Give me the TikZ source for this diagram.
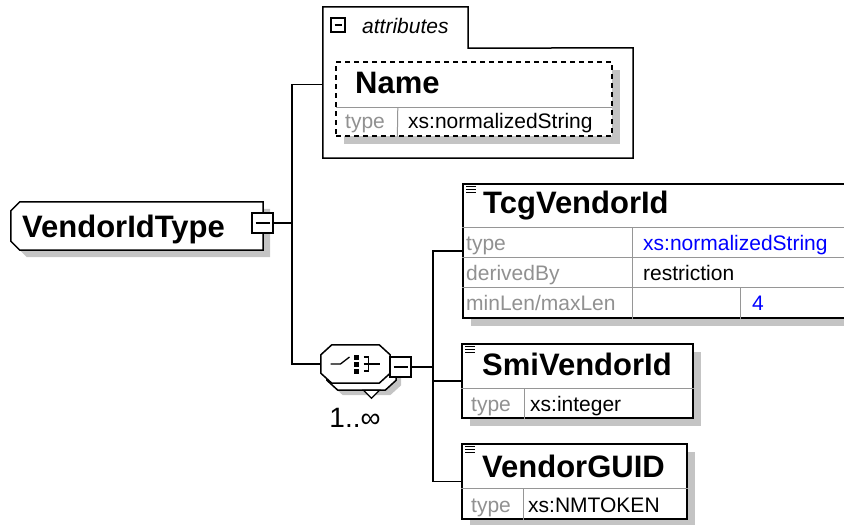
\documentclass[tikz,border=0pt]{standalone}
\usepackage{fontspec}
\setmainfont{Liberation Sans}
\usepackage{tikz}
\usetikzlibrary{calc, positioning, shadows}
\definecolor{xsdgrid}{RGB}{150,150,150}
\definecolor{xsdlabel}{RGB}{145,145,145}
\definecolor{xsdshadow}{RGB}{196,196,196}
\definecolor{xsdblue}{RGB}{0,0,255}
\newcommand{\docmark}[1]{%
  \foreach \dy in {3,6,9} \draw[line width=0.9pt] ($(#1.north west)+(4,\dy)$) -- ++(10,0);}
% octagon round a node, shifted by #2
\newcommand{\octoshape}[3]{%
  \path[#3] ($(#1.north west)+(11+#2,#2)$) -- ($(#1.north east)+(-11+#2,#2)$) -- ($(#1.north east)+(#2,10+#2)$)
    -- ($(#1.south east)+(#2,-10+#2)$) -- ($(#1.south east)+(-11+#2,#2)$) -- ($(#1.south west)+(11+#2,#2)$)
    -- ($(#1.south west)+(#2,-10+#2)$) -- ($(#1.north west)+(#2,10+#2)$) -- cycle;}
% complex type outline, chamfered on the left only
\newcommand{\typeshape}[3]{%
  \path[#3] ($(#1.north west)+(9+#2,#2)$) -- ($(#1.north east)+(#2,#2)$) -- ($(#1.south east)+(#2,#2)$)
    -- ($(#1.south west)+(9+#2,#2)$) -- ($(#1.south west)+(#2,-9+#2)$) -- ($(#1.north west)+(#2,9+#2)$) -- cycle;}

\begin{document}
\begin{tikzpicture}[x=1pt, y=-1pt,
    conn/.style={line width=1.5pt},
    gridline/.style={draw=xsdgrid, line width=1pt},
    outline/.style={draw=black, fill=white, line width=1.5pt},
    gray shadow/.style={drop shadow={shadow xshift=#1, shadow yshift=-#1, fill=xsdshadow, opacity=1}},
    elembox/.style={rectangle, draw=black, fill=white, line width=1.5pt, inner sep=0pt, gray shadow=8pt},
    frame/.style={rectangle, inner sep=0pt},
    ename/.style={font=\fontsize{31}{31}\selectfont\bfseries, anchor=base west, inner sep=0pt},
    prop/.style={font=\fontsize{21}{21}\selectfont, text=xsdlabel, anchor=base west, inner sep=0pt},
    pval/.style={font=\fontsize{21}{21}\selectfont, anchor=base west, inner sep=0pt},
    expander/.style={rectangle, draw=black, fill=white, line width=1.3pt, minimum width=21pt, minimum height=20pt, inner sep=0pt,
      path picture={\draw[line width=1.3pt] ([xshift=3.5pt]path picture bounding box.west) -- ([xshift=-3.5pt]path picture bounding box.east);}},
]
    \useasboundingbox (0,0) rectangle (844,525);
    \clip (0,0) rectangle (844,525);

    % complex type
    \node[frame, minimum width=252pt, minimum height=48pt] (vtype) at (137,226) {};
    \typeshape{vtype}{7}{fill=xsdshadow}
    \typeshape{vtype}{0}{outline}
    \node[ename] (vtypename) at (22,237) {VendorIdType};
    \node[expander] (vbtn) at (262.5,223) {};
    \coordinate (bus1) at (292,223);

    % attributes
    \node[frame, minimum width=145pt, minimum height=41pt] (attrtab) at (395.5,27.5) {};
    \node[frame, minimum width=310pt, minimum height=110pt] (attr) at (478,103) {};
    \draw[outline] (attrtab.south west) -- (attrtab.north west) -- (attrtab.north east)
      -- (attrtab.south east) -- (attr.north east) -- (attr.south east) -- (attr.south west) -- cycle;
    \node[expander, minimum width=14pt, minimum height=14pt] (attrbtn) at (338,25) {};
    \node[pval, font=\fontsize{21}{21}\selectfont\itshape] (attrlabel) at (362,33) {attributes};

    % Name
    \node[rectangle, draw=black, dash pattern=on 5pt off 4pt, fill=white, line width=1.3pt, minimum width=276pt,
      minimum height=74pt, inner sep=0pt, gray shadow=8pt] (namebox) at (474,99) {};
    \node[frame, minimum width=276pt, minimum height=45pt] (namehead) at (474,84.5) {};
    \draw[gridline] (namehead.south west) -- (namehead.south east);
    \draw[gridline] ($(namehead.south west)+(62,0)$) -- ($(namebox.south west)+(62,0)$);
    \node[ename] (nametitle) at (355,93) {Name};
    \node[prop] (nametype) at (345,128) {type};
    \node[pval] (nametypeval) at (408,128) {xs:normalizedString};

    % choice
    \node[frame, minimum width=69pt, minimum height=38pt] (choiceback) at (361.5,371) {};
    \octoshape{choiceback}{5}{fill=xsdshadow}
    \octoshape{choiceback}{0}{outline}
    \draw[outline, line width=1.3pt] ($(choiceback.south)+(2,0)$) -- ++(16,0) -- ++(-8,8) -- cycle;
    \node[frame, minimum width=69pt, minimum height=38pt] (choice) at (355.5,364) {};
    \octoshape{choice}{0}{outline}
    \draw[line width=1.3pt] ($(choice.center)+(-25,0)$) -- ++(10,0) -- ++(9,-7);
    \foreach \dy in {-7,0,7}
      \fill ($(choice.center)+(-1.5,\dy-2.5)$) rectangle ++(5,5);
    \draw[line width=1.3pt] ($(choice.center)+(8,-7)$) -- ++(5,0) -- ++(0,14) -- ++(-5,0);
    \draw[line width=1.3pt] ($(choice.center)+(8,0)$) -- ++(16,0);
    \node[expander] (cbtn) at (400.5,367) {};
    \node[font=\fontsize{28}{28}\selectfont, inner sep=0pt] (choicecard) at (355,418) {1..∞};
    \coordinate (bus2) at (433,367);

    % TcgVendorId
    \node[elembox, minimum width=383pt, minimum height=134pt] (tcg) at (654.5,251) {};
    \docmark{tcg}
    \foreach \ry in {44,74,104}
      \draw[gridline] ($(tcg.north west)+(0,\ry)$) -- ($(tcg.north east)+(0,\ry)$);
    \draw[gridline] ($(tcg.north west)+(170,44)$) -- ($(tcg.south west)+(170,0)$);
    \draw[gridline] ($(tcg.north west)+(278,104)$) -- ($(tcg.south west)+(278,0)$);
    \node[ename] (tcgtitle) at (483,213) {TcgVendorId};
    \node[prop] (tcgtype) at (466,250) {type};
    \node[prop] (tcgder) at (466,280) {derivedBy};
    \node[prop] (tcglen) at (466,310) {minLen/maxLen};
    \node[pval, text=xsdblue] (tcgtypeval) at (643,250) {xs:normalizedString};
    \node[pval] (tcgderval) at (643,280) {restriction};
    \node[pval, text=xsdblue] (tcglenval) at (752,310) {4};

    % SmiVendorId
    \node[elembox, minimum width=231pt, minimum height=74pt] (smi) at (577.5,381) {};
    \docmark{smi}
    \draw[gridline] ($(smi.north west)+(0,45)$) -- ($(smi.north east)+(0,45)$);
    \draw[gridline] ($(smi.north west)+(63,45)$) -- ($(smi.south west)+(63,0)$);
    \node[ename] (smititle) at (482,375) {SmiVendorId};
    \node[prop] (smitype) at (471,411) {type};
    \node[pval] (smitypeval) at (530,411) {xs:integer};

    % VendorGUID
    \node[elembox, minimum width=225pt, minimum height=75pt] (guid) at (574.5,481.5) {};
    \docmark{guid}
    \draw[gridline] ($(guid.north west)+(0,45)$) -- ($(guid.north east)+(0,45)$);
    \draw[gridline] ($(guid.north west)+(62,45)$) -- ($(guid.south west)+(62,0)$);
    \node[ename] (guidtitle) at (482,477) {VendorGUID};
    \node[prop] (guidtype) at (471,512) {type};
    \node[pval] (guidtypeval) at (528,512) {xs:NMTOKEN};

    % connectors
    \draw[conn] (vbtn.east) -- (bus1);
    \draw[conn] (bus1) |- (attr.west |- namehead.west);
    \draw[conn] (bus1) |- (choice.west);
    \draw[conn] (cbtn.east) -- (bus2);
    \draw[conn] (bus2) |- (tcg.west);
    \draw[conn] (bus2) |- (smi.west);
    \draw[conn] (bus2) |- (guid.west);
\end{tikzpicture}
\end{document}
